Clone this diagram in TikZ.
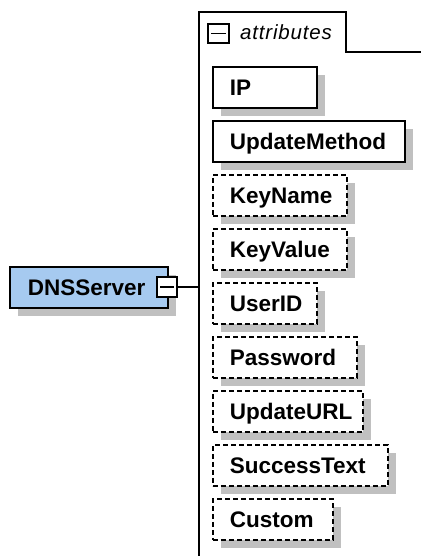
\documentclass[tikz,border=0pt]{standalone}
\usepackage{fontspec}
\setmainfont{Liberation Sans}
\newfontfamily\widesans[LetterSpace=4]{Liberation Sans}
\usetikzlibrary{shadows}
\definecolor{shadowgray}{HTML}{C0C0C0}
\definecolor{elemblue}{HTML}{A6CAF0}
\tikzset{
  boxbase/.style={draw=black, line width=1.6pt, fill=white, anchor=north west,
    minimum height=41pt, inner xsep=17pt, inner ysep=0pt, align=left,
    text height=16pt, text depth=0pt,
    font=\fontsize{22.5}{24}\selectfont\bfseries,
    general shadow={fill=shadowgray, shadow xshift=8pt, shadow yshift=-8pt}},
  reqattr/.style={boxbase},
  optattr/.style={boxbase, dash pattern=on 5pt off 3pt},
  elembox/.style={boxbase, fill=elemblue, inner xsep=18pt},
  minusbox/.style={draw=black, line width=1.4pt, fill=white, minimum width=20pt,
    minimum height=20pt, inner sep=0pt},
  frameline/.style={draw=black, line width=1.6pt},
  conn/.style={draw=black, line width=1.6pt},
}
\begin{document}
\begin{tikzpicture}[x=1pt,y=-1pt]
\useasboundingbox (0,0) rectangle (420,556);
% attributes frame
\draw[frameline] (199,560) -- (199,12) -- (346,12) -- (346,52) -- (425,52);
\node[draw=black, line width=1.3pt, minimum width=21pt, minimum height=19pt, inner sep=0pt] (amin) at (218.5,33.5) {};
\draw[line width=1.2pt] ([xshift=4pt]amin.west) -- ([xshift=-4pt]amin.east);
\node[anchor=west, inner sep=0pt, font=\fontsize{20.5}{24}\selectfont\widesans\itshape] (atitle) at (240,32) {attributes};
% attributes
\node[reqattr, text width=70pt] (ip) at (212,66) {IP};
\node[reqattr, text width=158pt] (um) at (212,120) {UpdateMethod};
\node[optattr, text width=100pt] (kn) at (212,174) {KeyName};
\node[optattr, text width=100pt] (kv) at (212,228) {KeyValue};
\node[optattr, text width=70pt] (uid) at (212,282) {UserID};
\node[optattr, text width=110pt] (pw) at (212,336) {Password};
\node[optattr, text width=116pt] (url) at (212,390) {UpdateURL};
\node[optattr, text width=141pt] (st) at (212,444) {SuccessText};
\node[optattr, text width=86pt] (cu) at (212,498) {Custom};
% element
\node[elembox, text width=122pt] (dns) at (9,266) {DNSServer};
\node[minusbox] (dmin) at (167,287) {};
\draw[line width=1.2pt] ([xshift=4pt]dmin.west) -- ([xshift=-4pt]dmin.east);
\coordinate (join) at (199,287);
\draw[conn] (dmin.east) -- (join);
\end{tikzpicture}
\end{document}
